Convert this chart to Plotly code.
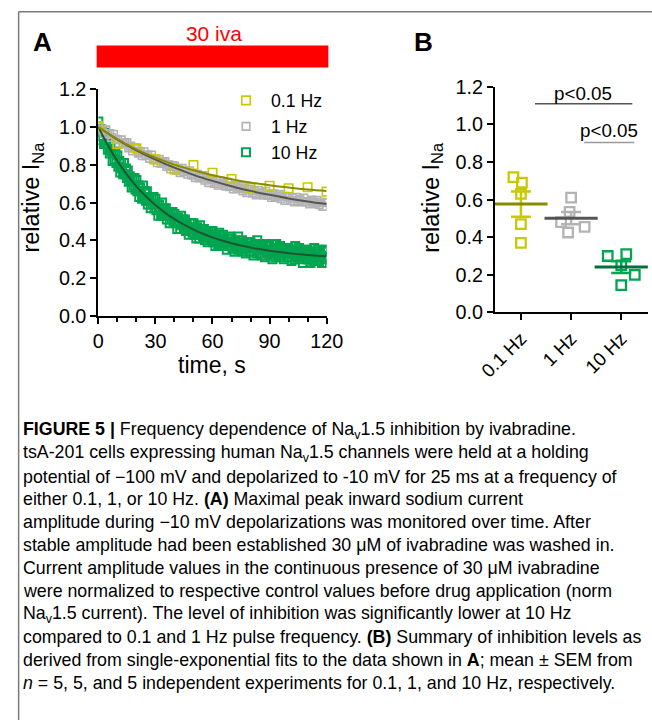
import plotly.graph_objects as go
import numpy as np

# Calibration of where the figure lands in the photographed window
# (measured from earlier renders): window_x = SX*fig_x + BX, window_y = SY*fig_y + BY
SX, BX = 0.945, 16.6
SY, BY = 0.972, 10.5
FW, FH = 672, 732
FS = 1 / 0.958  # font compensation for the slight shrink


def clamp(v):
    return min(1.0, max(0.0, v))


def px(x):
    return clamp((x - BX) / SX / FW)


def py(y):
    return clamp(1 - (y - BY) / SY / FH)


def f(s):
    return round(s * FS, 1)


# ---------------- Panel A data ----------------
t_01hz = [0, 10, 20, 30, 40, 50, 60, 70, 80, 90, 100, 110, 120]
i_01hz = [1.00, 0.91, 0.887, 0.829, 0.776, 0.799, 0.758, 0.725, 0.679, 0.689, 0.676, 0.681, 0.658]

t_1hz = list(range(0, 121))
i_1hz = [
    1.008, 0.983, 0.990, 0.965, 0.985, 0.963, 0.966, 0.945, 0.962, 0.935,
    0.934, 0.916, 0.932, 0.910, 0.914, 0.918, 0.890, 0.899, 0.873, 0.890,
    0.885, 0.862, 0.871, 0.848, 0.869, 0.849, 0.853, 0.834, 0.852, 0.827,
    0.828, 0.811, 0.829, 0.808, 0.813, 0.818, 0.792, 0.802, 0.778, 0.796,
    0.793, 0.771, 0.781, 0.759, 0.781, 0.762, 0.768, 0.750, 0.769, 0.746,
    0.747, 0.732, 0.750, 0.731, 0.737, 0.743, 0.718, 0.729, 0.706, 0.725,
    0.723, 0.702, 0.713, 0.692, 0.715, 0.697, 0.703, 0.687, 0.707, 0.684,
    0.687, 0.672, 0.691, 0.673, 0.679, 0.687, 0.662, 0.674, 0.652, 0.671,
    0.670, 0.650, 0.662, 0.641, 0.665, 0.648, 0.655, 0.639, 0.660, 0.638,
    0.641, 0.627, 0.647, 0.629, 0.636, 0.644, 0.620, 0.633, 0.611, 0.631,
    0.630, 0.611, 0.623, 0.603, 0.628, 0.611, 0.618, 0.603, 0.624, 0.603,
    0.606, 0.593, 0.613, 0.596, 0.603, 0.612, 0.589, 0.601, 0.580, 0.601,
    0.600,
]

t_10hz = [k * 0.5 for k in range(241)]
i_10hz = [
    1.03, 0.97, 0.99, 0.93, 0.98, 0.95, 0.91, 0.97, 0.91, 0.93,
    0.88, 0.93, 0.86, 0.89, 0.87, 0.82, 0.87, 0.83, 0.87, 0.81,
    0.85, 0.79, 0.82, 0.76, 0.81, 0.78, 0.75, 0.81, 0.75, 0.78,
    0.73, 0.77, 0.71, 0.74, 0.72, 0.68, 0.73, 0.69, 0.73, 0.67,
    0.72, 0.66, 0.69, 0.63, 0.68, 0.66, 0.62, 0.69, 0.63, 0.66,
    0.61, 0.66, 0.59, 0.63, 0.61, 0.57, 0.62, 0.59, 0.63, 0.57,
    0.62, 0.56, 0.59, 0.53, 0.59, 0.57, 0.53, 0.60, 0.54, 0.57,
    0.53, 0.57, 0.51, 0.55, 0.53, 0.49, 0.55, 0.51, 0.55, 0.50,
    0.54, 0.49, 0.52, 0.46, 0.52, 0.50, 0.46, 0.53, 0.48, 0.51,
    0.46, 0.51, 0.45, 0.48, 0.47, 0.43, 0.49, 0.46, 0.49, 0.44,
    0.49, 0.43, 0.46, 0.41, 0.47, 0.45, 0.41, 0.48, 0.43, 0.46,
    0.42, 0.46, 0.40, 0.44, 0.43, 0.39, 0.44, 0.41, 0.45, 0.40,
    0.45, 0.39, 0.42, 0.37, 0.43, 0.41, 0.38, 0.44, 0.39, 0.42,
    0.38, 0.43, 0.37, 0.40, 0.39, 0.35, 0.41, 0.39, 0.42, 0.37,
    0.41, 0.36, 0.39, 0.34, 0.40, 0.38, 0.35, 0.42, 0.36, 0.39,
    0.35, 0.40, 0.34, 0.38, 0.37, 0.33, 0.39, 0.36, 0.39, 0.34,
    0.39, 0.34, 0.37, 0.32, 0.38, 0.36, 0.33, 0.40, 0.35, 0.37,
    0.33, 0.38, 0.32, 0.36, 0.35, 0.31, 0.37, 0.34, 0.38, 0.33,
    0.37, 0.32, 0.35, 0.30, 0.36, 0.34, 0.31, 0.38, 0.33, 0.36,
    0.32, 0.37, 0.31, 0.35, 0.34, 0.30, 0.35, 0.33, 0.36, 0.31,
    0.36, 0.31, 0.34, 0.29, 0.35, 0.33, 0.30, 0.37, 0.32, 0.35,
    0.31, 0.36, 0.30, 0.34, 0.33, 0.28, 0.34, 0.31, 0.35, 0.30,
    0.35, 0.30, 0.33, 0.28, 0.34, 0.32, 0.29, 0.36, 0.31, 0.34,
    0.30, 0.35, 0.29, 0.33, 0.32, 0.28, 0.34, 0.31, 0.35, 0.30,
    0.35,
]

# single-exponential fit curves
fit_t_10s = [0, 10, 20, 30, 40, 50, 60, 70, 80, 90, 100, 110, 120]
fit_01hz = [1.000, 0.936, 0.882, 0.838, 0.801, 0.771, 0.745, 0.724, 0.706, 0.692, 0.680, 0.669, 0.661]
fit_1hz = [1.000, 0.934, 0.877, 0.828, 0.785, 0.747, 0.715, 0.687, 0.662, 0.641, 0.622, 0.606, 0.592]
fit_t_5s = [0, 5, 10, 15, 20, 25, 30, 35, 40, 45, 50, 55, 60, 65, 70, 75, 80, 85, 90, 95, 100, 105, 110, 115, 120]
fit_10hz = [1.000, 0.904, 0.820, 0.748, 0.686, 0.633, 0.587, 0.547, 0.512, 0.483, 0.457, 0.435, 0.416,
            0.399, 0.385, 0.373, 0.362, 0.353, 0.345, 0.338, 0.332, 0.327, 0.323, 0.319, 0.316]

# ---------------- Panel B data ----------------
categories_b = ["0.1 Hz", "1 Hz", "10 Hz"]
b_01hz = [0.72, 0.69, 0.63, 0.47, 0.37]
b_1hz = [0.61, 0.535, 0.48, 0.455, 0.425]
b_10hz = [0.30, 0.31, 0.25, 0.20, 0.145]
jitter_01hz = [-0.15, 0.02, 0.0, 0.0, 0.0]
jitter_1hz = [0.0, -0.03, -0.2, 0.27, -0.06]
jitter_10hz = [-0.27, 0.1, 0.0, 0.27, 0.0]

labels_a = ["0.1 Hz", "1 Hz", "10 Hz"]

# colours
C_OL_M, C_OL_L = "#c9c900", "#8a8a00"
C_GR_M, C_GR_L = "#b3b3b3", "#555555"
C_GN_M, C_GN_L = "#00a550", "#1e5631"
C_GN_MEAN = "#00703a"

FONT = "Liberation Sans, Arial, sans-serif"

fig = go.Figure()

# ---- Panel A traces ----
fig.add_trace(go.Scatter(x=t_10hz, y=i_10hz, mode="markers", name=labels_a[2],
                         legendgroup="g3", legendrank=3,
                         marker=dict(symbol="square-open", size=8, color=C_GN_M, line=dict(width=2)),
                         xaxis="x", yaxis="y"))
fig.add_trace(go.Scatter(x=t_1hz, y=i_1hz, mode="markers", name=labels_a[1],
                         legendgroup="g2", legendrank=2,
                         marker=dict(symbol="square-open", size=7.5, color=C_GR_M, line=dict(width=1.6)),
                         xaxis="x", yaxis="y"))
fig.add_trace(go.Scatter(x=t_01hz, y=i_01hz, mode="markers", name=labels_a[0],
                         legendgroup="g1", legendrank=1,
                         marker=dict(symbol="square-open", size=8.5, color=C_OL_M, line=dict(width=1.6)),
                         xaxis="x", yaxis="y"))
fig.add_trace(go.Scatter(x=fit_t_5s, y=fit_10hz, mode="lines", line=dict(color=C_GN_L, width=2, shape="spline"),
                         showlegend=False, xaxis="x", yaxis="y"))
fig.add_trace(go.Scatter(x=fit_t_10s, y=fit_1hz, mode="lines", line=dict(color=C_GR_L, width=2, shape="spline"),
                         showlegend=False, xaxis="x", yaxis="y"))
fig.add_trace(go.Scatter(x=fit_t_10s, y=fit_01hz, mode="lines", line=dict(color=C_OL_L, width=2, shape="spline"),
                         showlegend=False, xaxis="x", yaxis="y"))

# ---- Panel B traces ----
groups = [
    (b_01hz, jitter_01hz, 1, C_OL_M, C_OL_L),
    (b_1hz, jitter_1hz, 2, C_GR_M, C_GR_L),
    (b_10hz, jitter_10hz, 3, C_GN_M, C_GN_MEAN),
]
for vals, jit, pos, cm, cl in groups:
    arr = np.array(vals)
    mean = float(arr.mean())
    sem = float(arr.std(ddof=1) / np.sqrt(len(arr)))
    fig.add_trace(go.Scatter(x=[pos + j for j in jit], y=vals, mode="markers", showlegend=False,
                             marker=dict(symbol="square-open", size=9.5, color=cm, line=dict(width=2.3)),
                             xaxis="x2", yaxis="y2"))
    fig.add_trace(go.Scatter(x=[pos], y=[mean], mode="markers", showlegend=False,
                             marker=dict(symbol="line-ew-open", size=38, color=cl, line=dict(width=3, color=cl)),
                             error_y=dict(type="data", array=[sem], visible=True, color=cm, thickness=2.5, width=10),
                             xaxis="x2", yaxis="y2"))

axis_common = dict(showline=True, linecolor="black", linewidth=2, ticks="outside", ticklen=6,
                   tickwidth=2, tickcolor="black", showgrid=False, zeroline=False,
                   tickfont=dict(family=FONT, size=f(19), color="black"))

# panel B: category 1 sits at reference x=518 with 50 reference px per category
b_left, b_right = 492, 645
b_range = [1 - (518 - b_left) / 50, 1 + (b_right - 518) / 50]

fig.update_layout(
    width=FW, height=FH, autosize=False, margin=dict(l=0, r=0, t=0, b=0, pad=0),
    paper_bgcolor="white", plot_bgcolor="white",
    font=dict(family=FONT, color="black"),
    xaxis=dict(domain=[px(96.7), px(324.3)], range=[0, 120], anchor="y",
               tickvals=[0, 30, 60, 90, 120],
               minor=dict(dtick=10, tick0=0, ticks="outside", ticklen=4, tickwidth=2, tickcolor="black"),
               **axis_common),
    yaxis=dict(domain=[py(316), py(89)], range=[0, 1.2], anchor="x", dtick=0.2, tickformat=".1f",
               **axis_common),
    xaxis2=dict(domain=[px(b_left), px(b_right)], range=b_range, anchor="y2",
                tickvals=[1, 2, 3], ticktext=categories_b, tickangle=-45,
                **{**axis_common, "tickfont": dict(family=FONT, size=f(18), color="black")}),
    yaxis2=dict(domain=[py(312.5), py(86.5)], range=[0, 1.2], anchor="x2", dtick=0.2, tickformat=".1f",
                **axis_common),
    legend=dict(x=px(219), y=py(82), xanchor="left", yanchor="top", bgcolor="rgba(0,0,0,0)",
                font=dict(family=FONT, size=f(17), color="black"), tracegroupgap=4,
                itemwidth=40, traceorder="normal"),
)

shapes = [
    # red drug-application bar
    dict(type="rect", xref="paper", yref="paper", x0=px(95), x1=px(326), y0=py(67), y1=py(45),
         fillcolor="#ff0000", line=dict(width=0)),
    # figure frame lines
    dict(type="line", xref="paper", yref="paper", x0=0.001, x1=1, y0=0.999, y1=0.999,
         line=dict(color="#7a7a7a", width=1.5)),
    dict(type="line", xref="paper", yref="paper", x0=0.001, x1=0.001, y0=0.999, y1=0,
         line=dict(color="#7a7a7a", width=1.5)),
    # significance lines
    dict(type="line", xref="x2", yref="y2", x0=1.28, x1=3.22, y0=1.11, y1=1.11,
         line=dict(color="#555555", width=1.5)),
    dict(type="line", xref="x2", yref="y2", x0=2.26, x1=3.26, y0=0.904, y1=0.904,
         line=dict(color="#9a9a9a", width=1.5)),
]
fig.update_layout(shapes=shapes)

ann = []


def add_text(text, x, y, size, color="black", xanchor="center", yanchor="middle", angle=0, family=FONT,
             xref="paper", yref="paper"):
    ann.append(dict(text=text, x=x, y=y, xref=xref, yref=yref, showarrow=False, xanchor=xanchor,
                    yanchor=yanchor, textangle=angle, font=dict(family=family, size=size, color=color)))


add_text("<b>A</b>", px(41), py(42), f(25))
add_text("<b>B</b>", px(421), py(42), f(25))
add_text("30 iva", px(212), py(33), f(20), color="#ff0000")
add_text("time, s", px(210), py(365), f(22))
add_text("relative I<sub>Na</sub>", px(31), py(197), f(22.5), angle=-90)
add_text("relative I<sub>Na</sub>", px(429), py(197), f(22.5), angle=-90)
add_text("p<0.05", 2.24, 1.165, f(18), xref="x2", yref="y2")
add_text("p<0.05", 2.76, 0.965, f(18), xref="x2", yref="y2")

caption = [
    "<b>FIGURE 5 |</b> Frequency dependence of Na<sub>v</sub>1.5 inhibition by ivabradine.",
    "tsA-201 cells expressing human Na<sub>v</sub>1.5 channels were held at a holding",
    "potential of −100 mV and depolarized to -10 mV for 25 ms at a frequency of",
    "either 0.1, 1, or 10 Hz. <b>(A)</b> Maximal peak inward sodium current",
    "amplitude during −10 mV depolarizations was monitored over time. After",
    "stable amplitude had been established 30 μM of ivabradine was washed in.",
    "Current amplitude values in the continuous presence of 30 μM ivabradine",
    "were normalized to respective control values before drug application (norm",
    "Na<sub>v</sub>1.5 current). The level of inhibition was significantly lower at 10 Hz",
    "compared to 0.1 and 1 Hz pulse frequency. <b>(B)</b> Summary of inhibition levels as",
    "derived from single-exponential fits to the data shown in <b>A</b>; mean ± SEM from",
    "<i>n</i> = 5, 5, and 5 independent experiments for 0.1, 1, and 10 Hz, respectively.",
]
for k, line in enumerate(caption):
    add_text(line, px(20), py(431 + 23 * k), 17.8, xanchor="left", family=FONT)

fig.update_layout(annotations=ann)

fig.write_html("out.html")
